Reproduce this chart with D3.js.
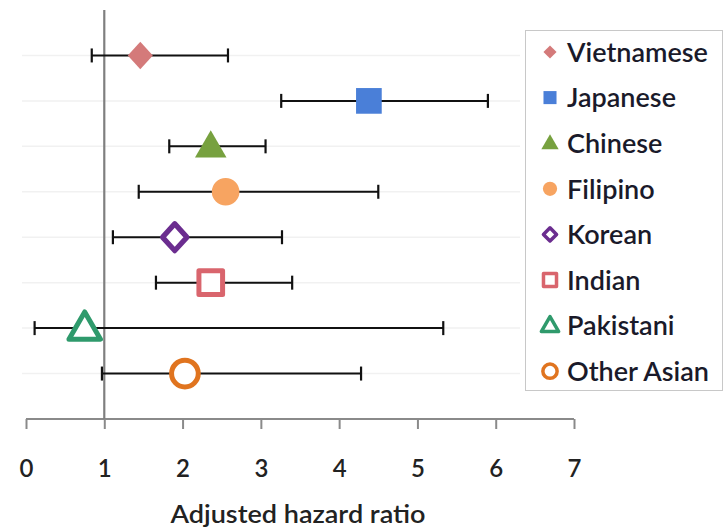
<!DOCTYPE html>
<html><head><meta charset="utf-8">
<script src="https://cdn.jsdelivr.net/npm/d3@7"></script>
<style>body{margin:0;background:#fff}</style>
</head><body>
<script>
const categories = ["Vietnamese","Japanese","Chinese","Filipino","Korean","Indian","Pakistani","Other Asian"];
const estimates = [1.46, 4.38, 2.36, 2.55, 1.90, 2.36, 0.75, 2.03];
const lowerCI   = [0.84, 3.26, 1.83, 1.44, 1.11, 1.66, 0.11, 0.97];
const upperCI   = [2.58, 5.90, 3.06, 4.50, 3.27, 3.40, 5.33, 4.28];
const colors    = ["#d47a7a","#4a7fd8","#77a13f","#f7a461","#6b2d8f","#d9656d","#2f9a6c","#e0741f"];
const shapes    = ["diamond","square","triangle","circle","diamond","square","triangle","circle"];
const hollow    = [false,false,false,false,true,true,true,true];
const xTicks    = [0,1,2,3,4,5,6,7];
const xTitle    = "Adjusted hazard ratio";

const W = 727, H = 529;
const FONT = "Lato, 'Open Sans', sans-serif";
const svg = d3.select("body").append("svg").attr("width", W).attr("height", H);
const x = d3.scaleLinear().domain([0,7]).range([26,574]);
const y = d3.scaleLinear().domain([0,9]).range([10,419]);
const rows = categories.map((c,i)=>({c, i, est:estimates[i], lo:lowerCI[i], hi:upperCI[i], col:colors[i], shape:shapes[i], hollow:hollow[i]}));

// faint gridlines
svg.append("g").selectAll("line").data(d3.range(1,9)).join("line")
  .attr("x1", 22).attr("x2", 520).attr("y1", d=>y(d)).attr("y2", d=>y(d))
  .attr("stroke", "#f1f1f1").attr("stroke-width", 1.5);

// x axis
const ax = svg.append("g").attr("transform", `translate(0,${y(9)})`)
  .call(d3.axisBottom(x).tickValues(xTicks).tickSize(10).tickPadding(31).tickFormat(d3.format("d")));
ax.select(".domain").attr("stroke","#8a8a8a").attr("stroke-width",2.2).attr("d", `M${x(0)},0H${x(7)}`);
ax.selectAll(".tick line").attr("stroke","#8a8a8a").attr("stroke-width",2);
ax.selectAll(".tick text").attr("fill","#222").attr("font-family",FONT).attr("font-size",24).attr("font-weight",600);

// vertical reference line at 1
svg.append("line").attr("x1",x(1)).attr("x2",x(1)).attr("y1",y(0)).attr("y2",y(9))
  .attr("stroke","#7f7f7f").attr("stroke-width",2.2);

// error bars
const eb = svg.append("g").selectAll("g").data(rows).join("g");
eb.append("line").attr("x1",d=>x(d.lo)).attr("x2",d=>x(d.hi)).attr("y1",d=>y(d.i+1)).attr("y2",d=>y(d.i+1))
  .attr("stroke","#111").attr("stroke-width",2);
eb.append("line").attr("x1",d=>x(d.lo)).attr("x2",d=>x(d.lo)).attr("y1",d=>y(d.i+1)-7).attr("y2",d=>y(d.i+1)+7)
  .attr("stroke","#111").attr("stroke-width",2.2);
eb.append("line").attr("x1",d=>x(d.hi)).attr("x2",d=>x(d.hi)).attr("y1",d=>y(d.i+1)-7).attr("y2",d=>y(d.i+1)+7)
  .attr("stroke","#111").attr("stroke-width",2.2);

const symType = {diamond:d3.symbolDiamond2, square:d3.symbolSquare, triangle:d3.symbolTriangle, circle:d3.symbolCircle};
function symPath(shape, filled){
  const s = filled ? {diamond:400, square:660, triangle:430, circle:600}[shape] : {diamond:380, square:560, triangle:430, circle:560}[shape];
  return d3.symbol().type(symType[shape]).size(s)();
}
function legPath(shape){
  const s = {diamond:110, square:170, triangle:130, circle:160}[shape];
  return d3.symbol().type(symType[shape]).size(s)();
}
function markTransform(d, px, py){
  let t = `translate(${px},${py + (d.shape==="triangle"?2:0)})`;
  if (d.shape==="diamond") t += " scale(1,1.1)";
  return t;
}

// markers
svg.append("g").selectAll("path").data(rows).join("path")
  .attr("transform", d=>markTransform(d, x(d.est), y(d.i+1)))
  .attr("d", d=>symPath(d.shape, !d.hollow))
  .attr("fill", d=>d.hollow ? "#fff" : d.col)
  .attr("stroke", d=>d.hollow ? d.col : "none")
  .attr("stroke-width", d=>d.hollow ? 5 : 0)
  .attr("stroke-linejoin","round");

// x title
svg.append("text").attr("x", 298).attr("y", 523).attr("text-anchor","middle")
  .attr("font-family",FONT).attr("font-size",25).attr("font-weight",600).attr("fill","#222")
  .attr("textLength",255).attr("lengthAdjust","spacingAndGlyphs").text(xTitle);

// legend
const lg = svg.append("g");
lg.append("rect").attr("x",525.5).attr("y",30.5).attr("width",197).attr("height",360)
  .attr("fill","#fff").attr("stroke","#c8c8c8").attr("stroke-width",1);
const li = lg.selectAll("g").data(rows).join("g")
  .attr("transform", d=>`translate(550,${52 + d.i*45.6})`);
li.append("path").attr("d", d=>legPath(d.shape))
  .attr("transform", d=> d.shape==="triangle" ? "translate(0,1)" : null)
  .attr("fill", d=>d.hollow ? "#fff" : d.col)
  .attr("stroke", d=>d.hollow ? d.col : "none")
  .attr("stroke-width", d=>d.hollow ? 3.5 : 0)
  .attr("stroke-linejoin","round");
li.append("text").attr("x",17).attr("y",0).attr("dy","0.36em")
  .attr("font-family",FONT).attr("font-size",27).attr("font-weight",600)
  .attr("fill","#1a1a2a").text(d=>d.c);
</script>
</body></html>
